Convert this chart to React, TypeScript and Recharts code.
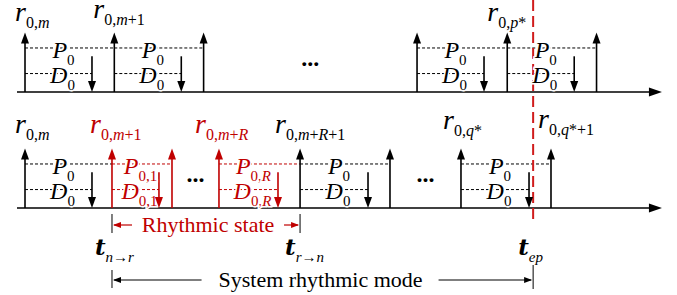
import React from 'react';
import { ScatterChart, Scatter, XAxis, YAxis, ReferenceLine } from 'recharts';

const W = 677;
const H = 295;
const RED = '#c00000';
const RED_LINE = '#d01c1c';
const INK = '#000000';
const SERIF = 'Liberation Serif';

// time axis in units of the regular charging period T
const T_MIN = -0.28;
const T_MAX = 7.301;
const AXIS_START = -0.09;
const AXIS_END = 7.11;

// levels as a fraction of the charging pulse height
const LEVEL_PULSE = 1;
const LEVEL_P = 0.74;
const LEVEL_D = 0.31;
const LEVEL_DIS = 0.6;

// upper timeline: normal operation
const topCharge = [0, 1, 2, 4.39, 5.4, 6.4];
const topChargeLabels = ['0,m', '0,m+1', '', '', '0,p*', ''];
const topStart = [0, 1, 4.39, 5.4];
const topEnd = [1, 2, 5.4, 6.4];
const topDischarge = [0.75, 1.75, 5.14, 6.15];
const topSub = ['0', '0', '0', '0'];

// lower timeline: rhythmic operation
const botCharge = [0, 0.974, 1.646, 2.172, 3.08, 4.087, 4.882, 5.89];
const botChargeRed = [false, true, true, true, false, false, false, false];
const botChargeLabels = ['0,m', '0,m+1', '', '0,m+R', '0,m+R+1', '', '0,q*', '0,q*+1'];
const botStart = [0, 0.974, 2.172, 3.08, 4.882];
const botEnd = [0.974, 1.646, 3.08, 4.087, 5.89];
const botDischarge = [0.75, 1.5, 2.833, 3.841, 5.644];
const botSub = ['0', '0,1', '0,R', '0', '0'];
const botRed = [false, true, true, false, false];

// mode switching instants
const T_NR = 0.974;
const T_RN = 3.08;
const T_EP = 5.69;

// layout
const TOP_BASE = 92;
const BOT_BASE = 208;
const AMP = 59.5;
const topLabelOffset: ([number, number] | null)[] = [[-10, -12], [-21, -15], null, null, [-20, -12], null];
const botLabelOffset: ([number, number] | null)[] = [
  [-10, -16], [-22, -16], null, [-24, -16], [-25, -16], null, [-18, -20], [-13, -21],
];
const pxT = (px: number) => (px * (T_MAX - T_MIN)) / W;
const lv = (base: number, level: number) => base - level * AMP;

type Seg = { x1: number; y1: number; x2: number; y2: number; color: string; w?: number };
type Pt = { x: number; y: number; kind: string; color: string; text?: string; sub?: string; dx?: number; dy?: number };

const solid: Seg[] = [];
const dashed: Seg[] = [];
const heads: Pt[] = [];
const labels: Pt[] = [];

const buildRow = (
  base: number,
  charge: number[],
  chargeRed: boolean[],
  chargeLabels: string[],
  offsets: ([number, number] | null)[],
  start: number[],
  end: number[],
  dis: number[],
  sub: string[],
  red: boolean[],
) => {
  solid.push({ x1: AXIS_START, y1: base, x2: AXIS_END - 0.05, y2: base, color: INK, w: 1.6 });
  heads.push({ x: AXIS_END, y: base, kind: 'right', color: INK });
  charge.forEach((t, i) => {
    const c = chargeRed[i] ? RED : INK;
    solid.push({ x1: t, y1: base, x2: t, y2: lv(base, LEVEL_PULSE) + 6, color: c, w: 1.6 });
    heads.push({ x: t, y: lv(base, LEVEL_PULSE), kind: 'up', color: c });
    const off = offsets[i];
    if (chargeLabels[i] && off) {
      labels.push({ x: t, y: lv(base, LEVEL_PULSE), kind: 'r', color: c, sub: chargeLabels[i], dx: off[0], dy: off[1] });
    }
    if (i > 0 && charge[i] - charge[i - 1] > 0.5 && !start.includes(charge[i - 1])) {
      labels.push({ x: (charge[i] + charge[i - 1]) / 2, y: lv(base, 0.5), kind: 'dots', color: INK });
    }
  });
  start.forEach((s, i) => {
    const c = red[i] ? RED : INK;
    dashed.push({ x1: s, y1: lv(base, LEVEL_P), x2: end[i], y2: lv(base, LEVEL_P), color: c });
    dashed.push({ x1: s, y1: lv(base, LEVEL_D), x2: dis[i], y2: lv(base, LEVEL_D), color: c });
    solid.push({ x1: dis[i], y1: lv(base, LEVEL_DIS), x2: dis[i], y2: base - 6, color: c, w: 1.6 });
    heads.push({ x: dis[i], y: base, kind: 'down', color: c });
    const mid = (s + dis[i]) / 2 + pxT(5);
    labels.push({ x: mid, y: lv(base, LEVEL_P) + 10, kind: 'sym', text: 'P', sub: sub[i], color: c });
    labels.push({ x: mid - pxT(1), y: lv(base, LEVEL_D) + 9, kind: 'sym', text: 'D', sub: sub[i], color: c });
  });
};

buildRow(TOP_BASE, topCharge, topCharge.map(() => false), topChargeLabels, topLabelOffset, topStart, topEnd, topDischarge, topSub, topStart.map(() => false));
buildRow(BOT_BASE, botCharge, botChargeRed, botChargeLabels, botLabelOffset, botStart, botEnd, botDischarge, botSub, botRed);

// rhythmic state span
const rsMid = (T_NR + T_RN) / 2 + pxT(2);
solid.push({ x1: T_NR, y1: 214, x2: T_NR, y2: 233, color: INK, w: 1 });
solid.push({ x1: T_RN, y1: 214, x2: T_RN, y2: 233, color: INK, w: 1 });
solid.push({ x1: T_NR + pxT(2), y1: 225, x2: rsMid - pxT(76), y2: 225, color: RED, w: 1.2 });
solid.push({ x1: rsMid + pxT(76), y1: 225, x2: T_RN - pxT(2), y2: 225, color: RED, w: 1.2 });
heads.push({ x: T_NR + pxT(1), y: 225, kind: 'sleft', color: RED });
heads.push({ x: T_RN - pxT(1), y: 225, kind: 'sright', color: RED });
labels.push({ x: rsMid, y: 232, kind: 'plain', text: 'Rhythmic state', color: RED });

// system rhythmic mode span
const smMid = (T_NR + T_EP) / 2 - pxT(2);
solid.push({ x1: T_NR, y1: 270, x2: T_NR, y2: 288, color: INK, w: 1 });
solid.push({ x1: T_EP, y1: 265, x2: T_EP, y2: 289, color: INK, w: 1 });
solid.push({ x1: T_NR + pxT(2), y1: 280, x2: smMid - pxT(119), y2: 280, color: INK, w: 1.2 });
solid.push({ x1: smMid + pxT(118), y1: 280, x2: T_EP - pxT(2), y2: 280, color: INK, w: 1.2 });
heads.push({ x: T_NR + pxT(1), y: 280, kind: 'sleft', color: INK });
heads.push({ x: T_EP - pxT(1), y: 280, kind: 'sright', color: INK });
labels.push({ x: smMid, y: 287, kind: 'plain', text: 'System rhythmic mode', color: INK });

// instants
labels.push({ x: T_NR, y: 255, kind: 't', sub: 'n→r', color: INK, dx: -17 });
labels.push({ x: T_RN, y: 255, kind: 't', sub: 'r→n', color: INK, dx: -15 });
labels.push({ x: T_EP, y: 255, kind: 't', sub: 'ep', color: INK, dx: -15 });

const subRuns = (s: string) => s.match(/[A-Za-z]+|[^A-Za-z]+/g) ?? [];

const renderSub = (s: string, size: number, dy: number) =>
  subRuns(s).map((r, i) => (
    <tspan
      key={i}
      fontFamily={SERIF}
      fontSize={size}
      fontStyle={/[A-Za-z]/.test(r) ? 'italic' : 'normal'}
      dy={i === 0 ? dy : undefined}
    >
      {r}
    </tspan>
  ));

const HeadShape = (props: any) => {
  const { cx, cy } = props;
  const p: Pt = props.payload ?? props;
  let pts = '';
  if (p.kind === 'up') pts = `${cx},${cy} ${cx - 4},${cy + 11} ${cx + 4},${cy + 11}`;
  if (p.kind === 'down') pts = `${cx},${cy} ${cx - 4},${cy - 11} ${cx + 4},${cy - 11}`;
  if (p.kind === 'right') pts = `${cx + 2},${cy} ${cx - 11},${cy - 4.5} ${cx - 11},${cy + 4.5}`;
  if (p.kind === 'sleft') pts = `${cx},${cy} ${cx + 8},${cy - 3} ${cx + 8},${cy + 3}`;
  if (p.kind === 'sright') pts = `${cx},${cy} ${cx - 8},${cy - 3} ${cx - 8},${cy + 3}`;
  return <polygon points={pts} fill={p.color} stroke="none" />;
};

const LabelShape = (props: any) => {
  const { cx, cy } = props;
  const p: Pt = props.payload ?? props;
  if (p.kind === 'r') {
    return (
      <g>
        <text x={cx + (p.dx ?? 0)} y={cy + (p.dy ?? 0)} fill={p.color} fontFamily={SERIF} fontSize={28}>
          <tspan fontFamily={SERIF} fontSize={28} fontStyle="italic">r</tspan>
          {renderSub(p.sub ?? '', 16, 7)}
        </text>
      </g>
    );
  }
  if (p.kind === 'sym') {
    return (
      <g>
        <text
          x={cx}
          y={cy}
          fill={p.color}
          textAnchor="middle"
          stroke="#fff"
          strokeWidth={3}
          paintOrder="stroke"
          fontFamily={SERIF}
          fontSize={24}
        >
          <tspan fontFamily={SERIF} fontSize={24} fontStyle="italic">{p.text}</tspan>
          {renderSub(p.sub ?? '', 15, 7)}
        </text>
      </g>
    );
  }
  if (p.kind === 't') {
    return (
      <g>
        <text x={cx + (p.dx ?? 0)} y={cy} fill={p.color} fontFamily={SERIF} fontSize={15}>
          <tspan fontFamily="DejaVu Serif" fontSize={23} fontStyle="italic" fontWeight="bold">t</tspan>
          <tspan fontFamily={SERIF} fontSize={15} fontStyle="italic" dy={7}>{p.sub}</tspan>
        </text>
      </g>
    );
  }
  if (p.kind === 'dots') {
    return (
      <g>
        <text x={cx} y={cy + 4} textAnchor="middle" fill={p.color} fontFamily={SERIF} fontSize={24} fontWeight="bold">
          ...
        </text>
      </g>
    );
  }
  return (
    <g>
      <text x={cx} y={cy} textAnchor="middle" fill={p.color} fontFamily={SERIF} fontSize={22}>
        {p.text}
      </text>
    </g>
  );
};

export default function App() {
  return (
    <div style={{ position: 'absolute', left: 0, top: 0, width: W, height: H, background: '#fff', fontFamily: SERIF }}>
      <ScatterChart width={W} height={H} margin={{ top: 0, right: 0, bottom: 0, left: 0 }} style={{ fontFamily: SERIF }}>
        <XAxis type="number" dataKey="x" domain={[T_MIN, T_MAX]} allowDataOverflow hide />
        <YAxis type="number" dataKey="y" domain={[0, H]} reversed allowDataOverflow hide />
        {dashed.map((s, i) => (
          <ReferenceLine
            key={`d${i}`}
            segment={[{ x: s.x1, y: s.y1 }, { x: s.x2, y: s.y2 }]}
            stroke={s.color}
            strokeWidth={1}
            strokeDasharray="3 2"
            ifOverflow="visible"
          />
        ))}
        {solid.map((s, i) => (
          <ReferenceLine
            key={`s${i}`}
            segment={[{ x: s.x1, y: s.y1 }, { x: s.x2, y: s.y2 }]}
            stroke={s.color}
            strokeWidth={s.w ?? 1.5}
            ifOverflow="visible"
          />
        ))}
        <ReferenceLine
          segment={[{ x: T_EP, y: 0 }, { x: T_EP, y: 222 }]}
          stroke={RED_LINE}
          strokeWidth={2}
          strokeDasharray="11 5"
          ifOverflow="visible"
        />
        <Scatter data={labels} shape={LabelShape} isAnimationActive={false} />
        <Scatter data={heads} shape={HeadShape} isAnimationActive={false} />
      </ScatterChart>
    </div>
  );
}
